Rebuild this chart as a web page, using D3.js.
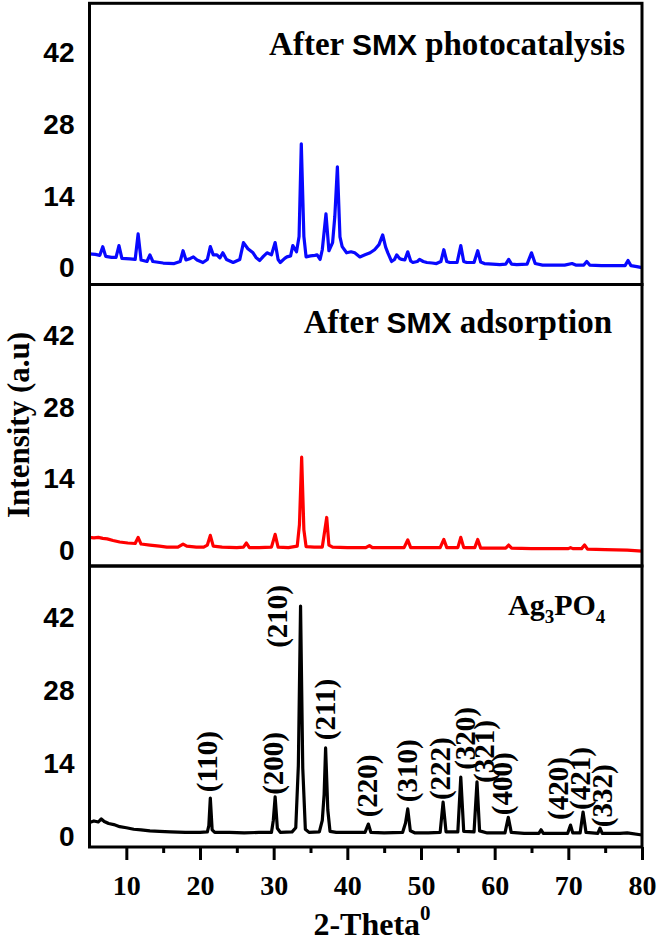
<!DOCTYPE html>
<html>
<head>
<meta charset="utf-8">
<script src="https://cdn.jsdelivr.net/npm/d3@7/dist/d3.min.js"></script>
<style>
	html, body { margin: 0; padding: 0; background: #fff; }
	svg { display: block; }
	.serif { font-family: "Liberation Serif", "Times New Roman", serif; font-weight: bold; }
	.sans { font-family: "Liberation Sans", Arial, sans-serif; font-weight: bold; }
</style>
</head>
<body>
<div id="xrd"></div>
<script>
// 2-theta vs intensity readings, one list per pattern
const photocatalysis = [
	[5, 2.7], [5.8, 2.6], [6.4, 2.4], [6.8, 4.1], [7.2, 2.2], [8.0, 2.0], [8.6, 2.0], [9.0, 4.3], [9.4, 1.8],
	[10.5, 1.7], [11.2, 1.6], [11.6, 6.6], [12.0, 1.5], [12.8, 1.2], [13.2, 2.5], [13.6, 1.2], [15, 0.9],
	[16.5, 0.8], [17.3, 1.2], [17.7, 3.3], [18.1, 1.5], [18.7, 1.8], [19.1, 2.1], [19.6, 1.5], [20.4, 1.0],
	[21.0, 1.6], [21.4, 4.1], [21.8, 2.5], [22.3, 2.5], [22.7, 1.9], [23.1, 2.9], [23.6, 1.6], [24.5, 1.0],
	[25.4, 1.6], [25.9, 4.9], [26.5, 3.7], [27.2, 2.9], [27.6, 2.0], [28.1, 1.4], [28.6, 2.2], [29.1, 2.9],
	[29.7, 2.5], [30.2, 4.9], [30.6, 1.6], [30.9, 1.0], [31.5, 1.8], [31.8, 2.1], [32.3, 2.3], [32.6, 4.3],
	[33.1, 3.1], [33.45, 6.1], [33.75, 24.2], [34.1, 6.1], [34.4, 2.1], [35.0, 2.3], [35.6, 2.4], [35.9, 2.5],
	[36.3, 1.6], [36.6, 3.5], [37.1, 10.5], [37.5, 3.3], [38.0, 4.9], [38.3, 10.0], [38.65, 19.7], [39.0, 6.0],
	[39.3, 4.1], [39.9, 2.9], [40.5, 3.1], [41.0, 2.9], [41.7, 2.1], [42.4, 2.5], [43.1, 2.9], [43.7, 3.5],
	[44.3, 4.5], [44.8, 6.4], [45.2, 4.0], [45.5, 2.9], [46.0, 1.2], [46.4, 1.6], [46.7, 2.5], [47.1, 1.8],
	[47.4, 1.6], [47.8, 1.5], [48.2, 3.1], [48.6, 1.3], [48.9, 1.0], [49.5, 1.2], [49.8, 1.6], [50.3, 1.2],
	[50.8, 1.0], [51.5, 0.9], [52.1, 0.8], [52.7, 1.2], [53.1, 3.5], [53.5, 1.2], [53.9, 1.0], [54.9, 1.0],
	[55.4, 4.3], [55.8, 1.2], [56.2, 1.0], [57.2, 1.0], [57.7, 3.3], [58.1, 1.1], [58.6, 0.8], [59.7, 0.7],
	[60.7, 0.6], [61.5, 0.7], [61.9, 1.6], [62.3, 0.7], [63.0, 0.6], [64.4, 0.7], [65.0, 2.9], [65.5, 0.8],
	[66.5, 0.5], [68, 0.5], [69.5, 0.5], [70.5, 0.8], [71, 0.5], [72.1, 0.5], [72.5, 1.2], [72.9, 0.5],
	[74.5, 0.4], [76, 0.4], [77.7, 0.4], [78.1, 1.4], [78.5, 0.4], [79.3, 0.2], [80, 0.0]
];

const adsorption = [
	[5, 2.5], [5.6, 2.4], [6.2, 2.5], [6.8, 2.3], [7.4, 2.2], [8.2, 1.9], [9.1, 1.6], [10.2, 1.4], [11.2, 1.3],
	[11.6, 2.5], [12.0, 1.2], [13.2, 1.0], [14.5, 0.8], [15.5, 0.6], [17.0, 0.6], [17.7, 1.2], [18.2, 0.8],
	[19.5, 0.6], [20.5, 0.6], [21.0, 1.0], [21.4, 2.9], [21.8, 0.8], [23, 0.6], [25, 0.5], [25.9, 0.6],
	[26.3, 1.4], [26.7, 0.5], [28, 0.5], [29.7, 0.6], [30.2, 3.1], [30.6, 0.6], [32, 0.5], [33.2, 0.8],
	[33.5, 5.0], [33.8, 18.2], [34.1, 4.0], [34.4, 0.7], [35.5, 0.6], [36.6, 0.6], [36.85, 3.0], [37.2, 6.4],
	[37.5, 1.0], [38, 0.6], [40, 0.5], [42.5, 0.5], [43.0, 0.9], [43.4, 0.5], [45, 0.5], [47.7, 0.5],
	[48.2, 2.0], [48.6, 0.5], [50, 0.5], [52.6, 0.5], [53.1, 2.1], [53.5, 0.5], [55.0, 0.5], [55.4, 2.5],
	[55.8, 0.5], [57.3, 0.5], [57.7, 2.1], [58.1, 0.4], [60, 0.4], [61.5, 0.4], [61.9, 1.0], [62.3, 0.4],
	[65, 0.3], [68, 0.3], [70.0, 0.3], [70.3, 0.5], [70.6, 0.3], [71.8, 0.3], [72.2, 1.0], [72.6, 0.2],
	[75, 0.1], [78, 0.0], [80, -0.2]
];

const pristine = [
	[5, 2.6], [5.6, 2.9], [6.2, 2.7], [6.6, 3.3], [7.0, 2.8], [7.6, 2.4], [8.3, 2.2], [9.1, 1.8], [10, 1.6],
	[11, 1.3], [12, 1.2], [13.2, 1.0], [14.5, 0.9], [16, 0.8], [18, 0.7], [20, 0.7], [21.0, 0.8], [21.2, 2.0],
	[21.4, 7.3], [21.65, 1.2], [22.0, 0.7], [24, 0.7], [26, 0.6], [28, 0.7], [29.7, 0.7], [29.95, 3.0],
	[30.2, 7.5], [30.5, 1.5], [30.9, 0.7], [32.5, 0.8], [33.0, 1.6], [33.35, 13.5], [33.65, 44.1], [33.95, 13.0],
	[34.3, 1.3], [34.8, 0.7], [36.2, 0.8], [36.6, 3.0], [36.85, 8.0], [37.05, 16.9], [37.35, 5.0], [37.65, 0.9],
	[38.5, 0.7], [40, 0.7], [42.4, 0.7], [42.85, 2.3], [43.2, 0.7], [45, 0.6], [47.5, 0.7], [47.9, 2.5],
	[48.2, 5.2], [48.55, 1.0], [49.2, 0.6], [51, 0.6], [52.6, 0.7], [53.0, 6.5], [53.4, 0.8], [55.0, 0.8],
	[55.4, 11.3], [55.8, 0.9], [57.2, 0.8], [57.6, 10.4], [57.95, 1.0], [59, 0.6], [61.4, 0.6], [61.85, 3.6],
	[62.25, 0.7], [64, 0.5], [66.0, 0.5], [66.3, 1.2], [66.6, 0.5], [69.9, 0.5], [70.3, 2.1], [70.6, 0.6],
	[71.6, 0.6], [72.0, 4.6], [72.4, 0.7], [74.0, 0.5], [74.3, 1.5], [74.6, 0.5], [77, 0.5], [78, 0.6], [80, 0.2]
];

// Miller indices and where each label starts (2-theta, intensity)
const hklNames = ['(110)', '(200)', '(210)', '(211)', '(220)', '(310)', '(222)', '(320)', '(321)', '(400)', '(420)', '(421)', '(332)'];
const hklTheta = [22.25, 31.2, 31.75, 38.27, 43.97, 49.4, 53.9, 57.3, 59.85, 62.4, 69.9, 73.0, 75.9];
const hklLevel = [8.4, 7.9, 36.1, 18.4, 3.6, 6.5, 6.9, 12.7, 10.2, 4.0, 3.1, 5.0, 1.7];

const yTicks = [0, 14, 28, 42];
const xMajorTicks = [10, 20, 30, 40, 50, 60, 70, 80];
const xMinorTicks = [15, 25, 35, 45, 55, 65, 75];

const init = () => {
	const width = 659, height = 944;
	const left = 89.5, right = 642;

	const svg = d3.select('#xrd')
		.append('svg')
		.attr('width', width)
		.attr('height', height);

	const x = d3.scaleLinear().domain([5, 80]).range([left, right]);

	// three stacked panels, sharing the x scale
	const panels = [
		{ data: photocatalysis, color: '#0808ff', top: 3.3, bottom: 284.5, yDomain: [-3.3, 51.7] },
		{ data: adsorption, color: '#ff0000', top: 284.5, bottom: 566, yDomain: [-3.1, 52.0] },
		{ data: pristine, color: '#000000', top: 566, bottom: 847, yDomain: [-2.1, 51.8] }
	];

	panels.forEach((p) => {
		p.y = d3.scaleLinear().domain(p.yDomain).range([p.bottom, p.top]);

		const line = d3.line()
			.x((d) => x(d[0]))
			.y((d) => p.y(d[1]));

		svg.append('path')
			.datum(p.data)
			.attr('fill', 'none')
			.attr('stroke', p.color)
			.attr('stroke-width', 3.2)
			.attr('stroke-linejoin', 'round')
			.attr('d', line);

		// Y axis labels only, no tick marks
		svg.append('g')
			.attr('transform', `translate(${left}, 0)`)
			.call(d3.axisLeft(p.y).tickValues(yTicks).tickSize(0).tickPadding(15))
			.call((g) => g.select('.domain').remove())
			.call((g) => g.selectAll('.tick text')
				.attr('class', 'sans')
				.attr('font-size', 28)
				.attr('fill', '#000'));

		svg.append('rect')
			.attr('x', left)
			.attr('y', p.top)
			.attr('width', right - left)
			.attr('height', p.bottom - p.top)
			.attr('fill', 'none')
			.attr('stroke', '#000')
			.attr('stroke-width', 3);
	});

	// X axis at the bottom panel
	const xBase = panels[2].bottom;
	svg.append('g')
		.attr('transform', `translate(0, ${xBase})`)
		.call(d3.axisBottom(x).tickValues(xMinorTicks).tickSize(6).tickFormat(''))
		.call((g) => g.select('.domain').remove())
		.call((g) => g.selectAll('.tick line').attr('stroke-width', 3));

	svg.append('g')
		.attr('transform', `translate(0, ${xBase})`)
		.call(d3.axisBottom(x).tickValues(xMajorTicks).tickSize(13).tickPadding(15).tickFormat(d3.format('d')))
		.call((g) => g.select('.domain').remove())
		.call((g) => g.selectAll('.tick line').attr('stroke-width', 3))
		.call((g) => g.selectAll('.tick text')
			.attr('class', 'serif')
			.attr('font-size', 28)
			.attr('fill', '#000'));

	// axis titles
	const xTitle = svg.append('text')
		.attr('class', 'serif')
		.attr('font-size', 32)
		.attr('text-anchor', 'middle')
		.attr('x', 372)
		.attr('y', 935);
	xTitle.append('tspan').text('2-Theta');
	xTitle.append('tspan').attr('font-size', 21).attr('dy', -15).text('0');

	svg.append('text')
		.attr('class', 'serif')
		.attr('font-size', 31)
		.attr('text-anchor', 'middle')
		.attr('transform', 'translate(29, 425) rotate(-90)')
		.text('Intensity (a.u)');

	// panel titles
	const titleRow = (txt, xr, yb) => {
		const t = svg.append('text')
			.attr('class', 'serif')
			.attr('font-size', 33)
			.attr('text-anchor', 'end')
			.attr('x', xr)
			.attr('y', yb);
		t.append('tspan').text('After ');
		t.append('tspan').attr('class', 'sans').attr('font-size', 30).text('SMX');
		t.append('tspan').text(' ' + txt);
	};
	titleRow('photocatalysis', 625, 55);
	titleRow('adsorption', 612, 333);

	const ag = svg.append('text')
		.attr('class', 'serif')
		.attr('font-size', 30)
		.attr('x', 508)
		.attr('y', 615);
	ag.append('tspan').text('Ag');
	ag.append('tspan').attr('font-size', 19).attr('dy', 8).text('3');
	ag.append('tspan').attr('dy', -8).text('PO');
	ag.append('tspan').attr('font-size', 19).attr('dy', 8).text('4');

	// Miller index labels, rotated
	const yb = panels[2].y;
	svg.append('g')
		.selectAll('text')
		.data(hklNames)
		.enter()
		.append('text')
		.attr('class', 'serif')
		.attr('font-size', 29)
		.attr('transform', (d, i) => `translate(${x(hklTheta[i])}, ${yb(hklLevel[i])}) rotate(-90)`)
		.text((d) => d);
};

init();
</script>
</body>
</html>
